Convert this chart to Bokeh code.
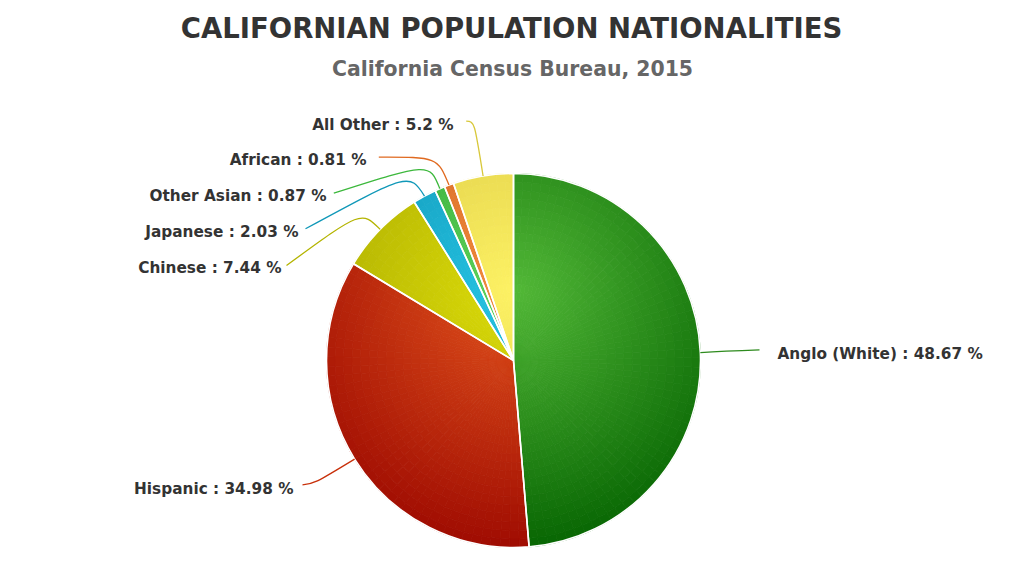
import math
from bokeh.plotting import figure
from bokeh.models import ColumnDataSource, Range1d
from bokeh.core.properties import value
from bokeh.embed import file_html
from bokeh.resources import INLINE

# ---------------- data ----------------
title_text = "CALIFORNIAN POPULATION NATIONALITIES"
subtitle_text = "California Census Bureau, 2015"
categories = ["Anglo (White)", "Hispanic", "Chinese", "Japanese",
              "Other Asian", "African", "All Other"]
percentages = [48.67, 34.98, 7.44, 2.03, 0.87, 0.81, 5.2]

# ---------------- style ----------------
light_colors = ["#52b837", "#e2531c", "#dcdc08", "#24c4e4", "#5cd45c", "#f28c3c", "#fdf264"]
dark_colors = ["#046200", "#9c0800", "#a4a400", "#0e8cac", "#2c9c2c", "#cc5c1c", "#d6c23e"]
line_colors = ["#2e8b1e", "#c8300a", "#b4b400", "#1098b8", "#3cb83c", "#e06a20", "#d8c83a"]

W, H = 1008, 548


def P(px, py):
    """page pixel -> data coords"""
    return px, H - py


# layout (page pixels)
pie_center = (513, 360)
pie_radius = 187
grad_focus = (515, 290)
grad_radius = 270
label_pos = [(777, 353), (293, 488), (281, 267), (298, 231.5),
             (326, 195.7), (366, 159.7), (453, 124.7)]
label_align = ["left", "right", "right", "right", "right", "right", "right"]
conn_bend = [(722, 350.5), (314, 483), (361, 210), (409, 172),
             (429, 162), (437, 156.5), (474, 121)]
conn_end = [(759, 349.3), (302, 484.3), (286, 265), (305, 228.3),
            (333.3, 192.7), (378.3, 156.7), (465.7, 120.7)]

p = figure(width=W, height=H, x_range=Range1d(0, W), y_range=Range1d(0, H),
           output_backend="svg", toolbar_location=None, min_border=0,
           x_axis_location=None, y_axis_location=None)
p.grid.visible = False
p.outline_line_color = None
p.background_fill_color = "white"
p.border_fill_color = "white"

CX, CY = P(*pie_center)
R = pie_radius
FX, FY = P(*grad_focus)


def hex2rgb(h):
    h = h.lstrip("#")
    return tuple(int(h[i:i + 2], 16) for i in (0, 2, 4))


def lerp_color(c0, c1, t):
    a, b = hex2rgb(c0), hex2rgb(c1)
    return "#%02x%02x%02x" % tuple(int(round(a[i] + (b[i] - a[i]) * t)) for i in range(3))


total = sum(percentages)
starts, ends, mids = [], [], []
cum = 0.0
for v in percentages:
    f0 = cum / total
    f1 = (cum + v) / total
    cum += v
    starts.append(math.pi / 2 - 2 * math.pi * f1)
    ends.append(math.pi / 2 - 2 * math.pi * f0)
    mids.append(math.pi / 2 - 2 * math.pi * (f0 + f1) / 2)

# gradient cells
cells = dict(x=[], y=[], ir=[], orr=[], sa=[], ea=[], color=[])
n_rad = 22
for i in range(len(percentages)):
    s0, e0 = starts[i], ends[i]
    span = e0 - s0
    n_ang = max(2, int(math.ceil(math.degrees(span) / 3.0)))
    for j in range(n_ang):
        s = s0 + span * j / n_ang
        e = s0 + span * (j + 1) / n_ang
        m = (s + e) / 2
        for k in range(n_rad):
            r0 = R * k / n_rad
            r1 = R * (k + 1) / n_rad
            rm = (r0 + r1) / 2
            px = CX + rm * math.cos(m)
            py = CY + rm * math.sin(m)
            t = min(math.hypot(px - FX, py - FY) / grad_radius, 1.0)
            cells["x"].append(CX)
            cells["y"].append(CY)
            cells["ir"].append(r0)
            cells["orr"].append(r1)
            cells["sa"].append(s)
            cells["ea"].append(e)
            cells["color"].append(lerp_color(light_colors[i], dark_colors[i], t))

p.annular_wedge(x="x", y="y", inner_radius="ir", outer_radius="orr",
                start_angle="sa", end_angle="ea", fill_color="color",
                line_color="color", line_width=0.8, source=ColumnDataSource(cells))

# white slice borders
p.wedge(x=[CX] * len(percentages), y=[CY] * len(percentages), radius=R,
        start_angle=starts, end_angle=ends, fill_color=None,
        line_color="white", line_width=1.6)

# connectors
ex = [CX + R * math.cos(m) for m in mids]
ey = [CY + R * math.sin(m) for m in mids]
bx = [P(*b)[0] for b in conn_bend]
by = [P(*b)[1] for b in conn_bend]
cx_ = [P(*c)[0] for c in conn_end]
cy_ = [P(*c)[1] for c in conn_end]
p.bezier(x0=cx_, y0=cy_, x1=ex, y1=ey, cx0=bx, cy0=by, cx1=bx, cy1=by,
         line_color=line_colors, line_width=1.3)

# labels
labels = [f"{c} : {v:g} %" for c, v in zip(categories, percentages)]
lx = [P(*l)[0] for l in label_pos]
ly = [P(*l)[1] for l in label_pos]
p.text(x=lx, y=ly, text=labels, text_align=label_align, text_baseline="alphabetic",
       text_font=value("DejaVu Sans"), text_font_style="bold",
       text_font_size="15.3px", text_color="#333333")

# titles
tx, ty = P(511, 27)
p.text(x=[tx], y=[ty], text=[title_text], text_align="center", text_baseline="alphabetic",
       text_font=value("DejaVu Sans"), text_font_style="bold",
       text_font_size="27.5px", text_color="#333333")
sx, sy = P(512, 68)
p.text(x=[sx], y=[sy], text=[subtitle_text], text_align="center", text_baseline="alphabetic",
       text_font=value("DejaVu Sans"), text_font_style="bold",
       text_font_size="20.4px", text_color="#666666")

open("out.html", "w").write(file_html(p, INLINE))
